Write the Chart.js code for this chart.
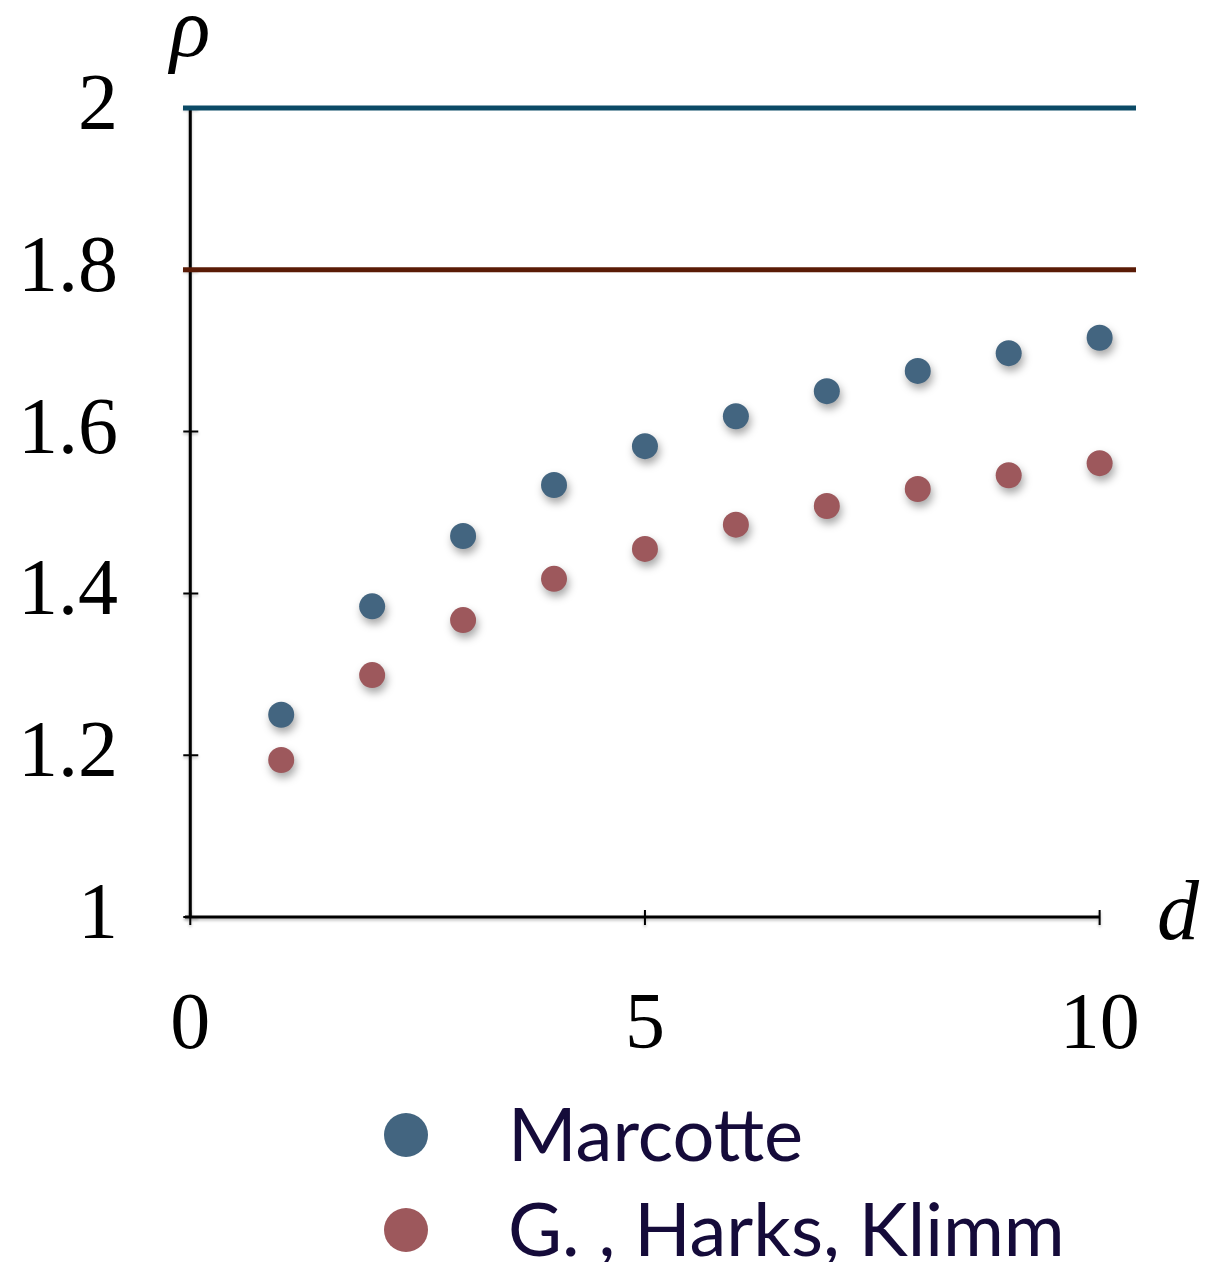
<!DOCTYPE html>
<html>
<head>
<meta charset="utf-8">
<script src="https://cdn.jsdelivr.net/npm/chart.js@4/dist/chart.umd.min.js"></script>
<style>
html,body{margin:0;padding:0;background:#fff;}
#wrap{width:1222px;height:1262px;position:relative;}
</style>
</head>
<body>
<div id="wrap"><canvas id="c" width="1222" height="1262"></canvas></div>
<script>
// ---- data ----
const dValues = [1, 2, 3, 4, 5, 6, 7, 8, 9, 10];
const marcotteValues = [1.250, 1.384, 1.471, 1.534, 1.582, 1.619, 1.650, 1.675, 1.697, 1.716];
const ghkValues = [1.194, 1.299, 1.367, 1.418, 1.455, 1.485, 1.508, 1.529, 1.546, 1.561];
const marcotteBound = 2.0;
const ghkBound = 1.8;
const seriesLabels = ['Marcotte', 'G. , Harks, Klimm'];
const xTickValues = [0, 5, 10];
const yTickValues = [1, 1.2, 1.4, 1.6, 1.8, 2];
const xRange = [-0.08, 10.4];
const yRange = [1, 2];

// ---- styles ----
const blue = '#436580';
const red = '#9d585c';
const tealLine = '#0b4a66';
const brownLine = '#5a1b06';
const serif = '"Liberation Serif", "DejaVu Serif", serif';

const toPts = (xs, ys) => xs.map((x, i) => ({x: x, y: ys[i]}));

const shadowPlugin = {
  id: 'pointShadow',
  beforeDatasetDraw(chart, args) {
    const ds = chart.data.datasets[args.index];
    if (ds.isPoints) {
      const ctx = chart.ctx;
      ctx.save();
      ctx.shadowColor = 'rgba(0,0,0,0.35)';
      ctx.shadowBlur = 8;
      ctx.shadowOffsetX = 2;
      ctx.shadowOffsetY = 5;
    }
  },
  afterDatasetDraw(chart, args) {
    const ds = chart.data.datasets[args.index];
    if (ds.isPoints) chart.ctx.restore();
  }
};

const axesPlugin = {
  id: 'axesDraw',
  beforeDatasetsDraw(chart) {
    const ctx = chart.ctx;
    const xs = chart.scales.x, ys = chart.scales.y;
    const x0 = xs.getPixelForValue(0);
    const y1 = ys.getPixelForValue(yRange[0]);
    const y2 = ys.getPixelForValue(yRange[1]);
    const xEnd = xs.getPixelForValue(xTickValues[xTickValues.length - 1]);
    ctx.save();
    ctx.strokeStyle = '#000';
    ctx.lineWidth = 3;
    ctx.shadowColor = 'rgba(0,0,0,0.25)';
    ctx.shadowBlur = 3;
    ctx.shadowOffsetY = 2;
    ctx.beginPath();
    ctx.moveTo(x0, y2);
    ctx.lineTo(x0, y1);
    ctx.moveTo(chart.chartArea.left + 2, y1);
    ctx.lineTo(xEnd, y1);
    ctx.stroke();
    ctx.lineWidth = 2;
    ctx.beginPath();
    yTickValues.forEach(v => {
      const y = ys.getPixelForValue(v);
      ctx.moveTo(x0 - 7, y);
      ctx.lineTo(x0 + 8, y);
    });
    xTickValues.forEach(v => {
      const x = xs.getPixelForValue(v);
      ctx.moveTo(x, y1 - 7);
      ctx.lineTo(x, y1 + 8);
    });
    ctx.stroke();
    ctx.restore();
  },
  afterDraw(chart) {
    const ctx = chart.ctx;
    const xs = chart.scales.x, ys = chart.scales.y;
    const x0 = xs.getPixelForValue(0);
    ctx.save();
    // axis titles
    ctx.fillStyle = '#000';
    ctx.font = 'italic 84px ' + serif;
    ctx.textAlign = 'center';
    ctx.textBaseline = 'alphabetic';
    ctx.fillText('ρ', x0, 56);
    ctx.fillText('d', xs.right + 42, ys.getPixelForValue(yRange[0]) + 22);
    // legend
    const items = [
      {label: chart.data.datasets[0].label, color: blue, y: 1135},
      {label: chart.data.datasets[1].label, color: red, y: 1230}
    ];
    ctx.textAlign = 'left';
    ctx.textBaseline = 'middle';
    ctx.font = '74px Lato, "Open Sans", sans-serif';
    items.forEach(it => {
      ctx.fillStyle = it.color;
      ctx.beginPath();
      ctx.ellipse(406, it.y, 22, 22, 0, 0, Math.PI * 2);
      ctx.fill();
      ctx.fillStyle = '#150b3a';
      ctx.fillText(it.label, 508, it.y + 2);
    });
    ctx.restore();
  }
};

new Chart(document.getElementById('c'), {
  data: {
    datasets: [
      {type: 'scatter', label: seriesLabels[0], isPoints: true, data: toPts(dValues, marcotteValues),
       backgroundColor: blue, borderColor: blue, pointRadius: 13, pointHoverRadius: 13, borderWidth: 0, order: 1},
      {type: 'scatter', label: seriesLabels[1], isPoints: true, data: toPts(dValues, ghkValues),
       backgroundColor: red, borderColor: red, pointRadius: 13, pointHoverRadius: 13, borderWidth: 0, order: 2},
      {type: 'line', label: 'Marcotte bound', data: [{x: xRange[0], y: marcotteBound}, {x: xRange[1], y: marcotteBound}],
       borderColor: tealLine, borderWidth: 5, pointRadius: 0, fill: false, clip: false, order: 3},
      {type: 'line', label: 'GHK bound', data: [{x: xRange[0], y: ghkBound}, {x: xRange[1], y: ghkBound}],
       borderColor: brownLine, borderWidth: 5, pointRadius: 0, fill: false, clip: false, order: 4}
    ]
  },
  options: {
    responsive: false,
    animation: false,
    devicePixelRatio: 1,
    layout: {padding: {top: 108, right: 86, left: 0, bottom: 0}},
    plugins: {legend: {display: false}, tooltip: {enabled: false}},
    scales: {
      x: {
        type: 'linear', min: xRange[0], max: xRange[1],
        afterBuildTicks: s => { s.ticks = xTickValues.map(v => ({value: v})); },
        afterFit: s => { s.height = 345; s.paddingLeft = 0; s.paddingRight = 0; },
        grid: {display: false, drawTicks: false},
        border: {display: false},
        ticks: {font: {family: serif, size: 80}, color: '#000', padding: 62, maxRotation: 0,
                callback: v => String(v)}
      },
      y: {
        type: 'linear', min: yRange[0], max: yRange[1],
        afterBuildTicks: s => { s.ticks = yTickValues.map(v => ({value: v})); },
        afterFit: s => { s.width = 183; s.paddingTop = 0; s.paddingBottom = 0; },
        grid: {display: false, drawTicks: false},
        border: {display: false},
        ticks: {font: {family: serif, size: 80}, color: '#000', padding: 65,
                callback: v => (Math.round(v * 10) / 10).toString()}
      }
    }
  },
  plugins: [shadowPlugin, axesPlugin]
});
</script>
</body>
</html>
